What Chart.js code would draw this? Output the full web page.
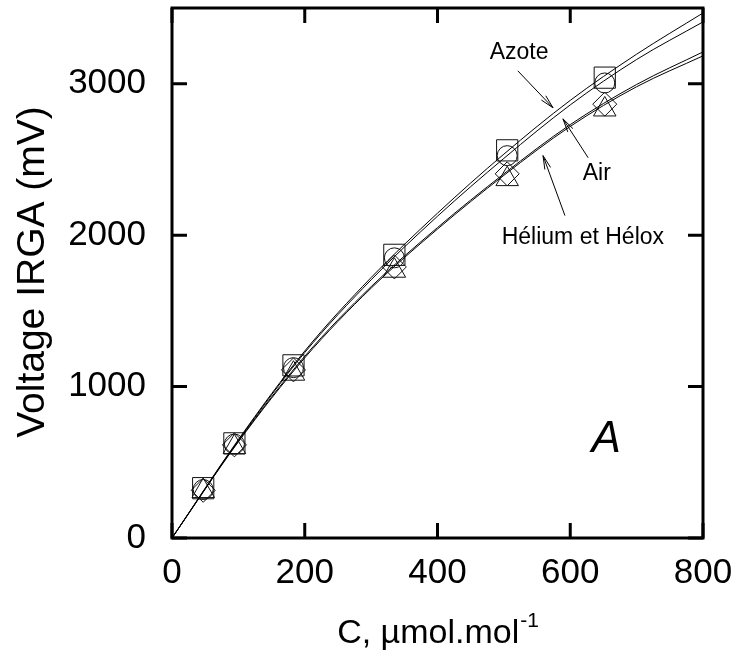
<!DOCTYPE html>
<html>
<head>
<meta charset="utf-8">
<script src="https://cdn.jsdelivr.net/npm/chart.js@4.4.0/dist/chart.umd.min.js"></script>
<style>
  html, body { margin: 0; padding: 0; background: #fff; }
  #wrap { width: 737px; height: 661px; }
</style>
</head>
<body>
<div id="wrap"><canvas id="myChart"></canvas></div>
<script>
const ctx = document.getElementById('myChart');

// measured points (4 gases)
const markerX = [47, 94, 183, 335, 505, 652];
const azoteY  = [329, 625, 1140, 1870, 2560, 3040];
const airY    = [320, 620, 1125, 1850, 2525, 3005];
const heliumY = [315, 615, 1110, 1790, 2405, 2865];
const heloxY  = [310, 600, 1085, 1765, 2370, 2830];

// fitted curves
const curveX    = [0, 100, 200, 300, 400, 500, 600, 700, 800];
const azoteFit  = [0, 650, 1235, 1720, 2145, 2535, 2890, 3195, 3467];
const airFit    = [0, 645, 1225, 1705, 2125, 2507, 2860, 3160, 3408];
const heliumFit = [0, 640, 1200, 1660, 2050, 2405, 2730, 2995, 3210];
const heloxFit  = [0, 635, 1190, 1650, 2040, 2395, 2718, 2980, 3184];

// tick labels
const xTicks = [0, 200, 400, 600, 800];
const yTicks = [0, 1000, 2000, 3000];

const FONT = '"Liberation Sans", Arial, Helvetica, sans-serif';

function pts(xs, ys) {
  return xs.map((x, i) => ({x: x, y: ys[i]}));
}

function curve(label, ys) {
  return {
    type: 'line', label: label, data: pts(curveX, ys),
    borderColor: '#000', borderWidth: 1, pointRadius: 0,
    cubicInterpolationMode: 'monotone', fill: false
  };
}

function markers(label, ys, style, r) {
  return {
    type: 'scatter', label: label, data: pts(markerX, ys),
    pointStyle: style, pointRadius: r, pointHoverRadius: r,
    borderColor: '#111', borderWidth: 1, backgroundColor: 'rgba(0,0,0,0)'
  };
}

// annotations in data units
const notes = [
  {text: 'Azote', x: 523, y: 3204, from: [521, 3085], to: [574, 2841]},
  {text: 'Air', x: 640, y: 2406, from: [627, 2511], to: [589, 2768]},
  {text: 'Hélium et Hélox', x: 619, y: 1984, from: [592, 2129], to: [559, 2525]}
];

function noPad(s) {
  s.paddingTop = 0; s.paddingBottom = 0;
  s.paddingLeft = 0; s.paddingRight = 0;
}

const framePlugin = {
  id: 'framePlugin',
  afterDraw(chart) {
    const c = chart.ctx, a = chart.chartArea;
    const sx = chart.scales.x, sy = chart.scales.y;
    c.save();
    c.strokeStyle = '#000';
    c.lineWidth = 3;
    c.strokeRect(a.left, a.top, a.right - a.left, a.bottom - a.top);
    // inward ticks on all four sides
    c.beginPath();
    xTicks.forEach(v => {
      const px = sx.getPixelForValue(v);
      c.moveTo(px, a.bottom); c.lineTo(px, a.bottom - 15);
      c.moveTo(px, a.top); c.lineTo(px, a.top + 15);
    });
    yTicks.forEach(v => {
      const py = sy.getPixelForValue(v);
      c.moveTo(a.left, py); c.lineTo(a.left + 15, py);
      c.moveTo(a.right, py); c.lineTo(a.right - 15, py);
    });
    c.stroke();

    // labels + arrows
    c.lineWidth = 1;
    c.fillStyle = '#000';
    c.font = '23px ' + FONT;
    c.textAlign = 'center';
    c.textBaseline = 'middle';
    notes.forEach(n => {
      c.fillText(n.text, sx.getPixelForValue(n.x), sy.getPixelForValue(n.y));
      const x0 = sx.getPixelForValue(n.from[0]), y0 = sy.getPixelForValue(n.from[1]);
      const x1 = sx.getPixelForValue(n.to[0]), y1 = sy.getPixelForValue(n.to[1]);
      const ang = Math.atan2(y1 - y0, x1 - x0);
      c.beginPath();
      c.moveTo(x0, y0); c.lineTo(x1, y1);
      c.moveTo(x1 - 14 * Math.cos(ang - 0.22), y1 - 14 * Math.sin(ang - 0.22));
      c.lineTo(x1, y1);
      c.lineTo(x1 - 14 * Math.cos(ang + 0.22), y1 - 14 * Math.sin(ang + 0.22));
      c.stroke();
    });

    // panel letter
    c.font = 'italic 44px ' + FONT;
    c.fillText('A', sx.getPixelForValue(654), sy.getPixelForValue(646));

    // axis titles
    c.font = '34px ' + FONT;
    const main = 'C, µmol.mol', sup = '-1';
    const wMain = c.measureText(main).width;
    c.font = '21px ' + FONT;
    const wSup = c.measureText(sup).width;
    const cx = (a.left + a.right) / 2;
    const startX = cx - (wMain + wSup) / 2;
    c.textAlign = 'left';
    c.font = '34px ' + FONT;
    c.fillText(main, startX, 634);
    c.font = '21px ' + FONT;
    c.fillText(sup, startX + wMain + 1, 621);

    c.translate(33, 272);
    c.rotate(-Math.PI / 2);
    c.textAlign = 'center';
    c.font = '39px ' + FONT;
    c.fillText('Voltage IRGA (mV)', 0, 0);
    c.restore();
  }
};

new Chart(ctx, {
  data: {
    datasets: [
      curve('Azote fit', azoteFit),
      curve('Air fit', airFit),
      curve('Hélium fit', heliumFit),
      curve('Hélox fit', heloxFit),
      markers('Azote', azoteY, 'rect', 15),
      markers('Air', airY, 'circle', 10),
      markers('Hélium', heliumY, 'rectRot', 12),
      markers('Hélox', heloxY, 'triangle', 13)
    ]
  },
  options: {
    responsive: true,
    maintainAspectRatio: false,
    animation: false,
    devicePixelRatio: 1,
    layout: {autoPadding: false, padding: {left: 0, right: 34, top: 8, bottom: 0}},
    plugins: {legend: {display: false}, tooltip: {enabled: false}},
    scales: {
      x: {
        type: 'linear', min: 0, max: 800,
        afterBuildTicks: s => { s.ticks = xTicks.map(v => ({value: v})); },
        afterFit: s => { s.height = 123; noPad(s); },
        grid: {display: false}, border: {display: false},
        ticks: {color: '#000', font: {family: FONT, size: 35}, padding: 6, maxRotation: 0,
                callback: v => String(v)}
      },
      y: {
        type: 'linear', min: 0, max: 3500,
        afterBuildTicks: s => { s.ticks = yTicks.map(v => ({value: v})); },
        afterFit: s => { s.width = 172; noPad(s); },
        grid: {display: false}, border: {display: false},
        ticks: {color: '#000', font: {family: FONT, size: 35}, padding: 18,
                callback: v => String(v)}
      }
    }
  },
  plugins: [framePlugin]
});
</script>
</body>
</html>
